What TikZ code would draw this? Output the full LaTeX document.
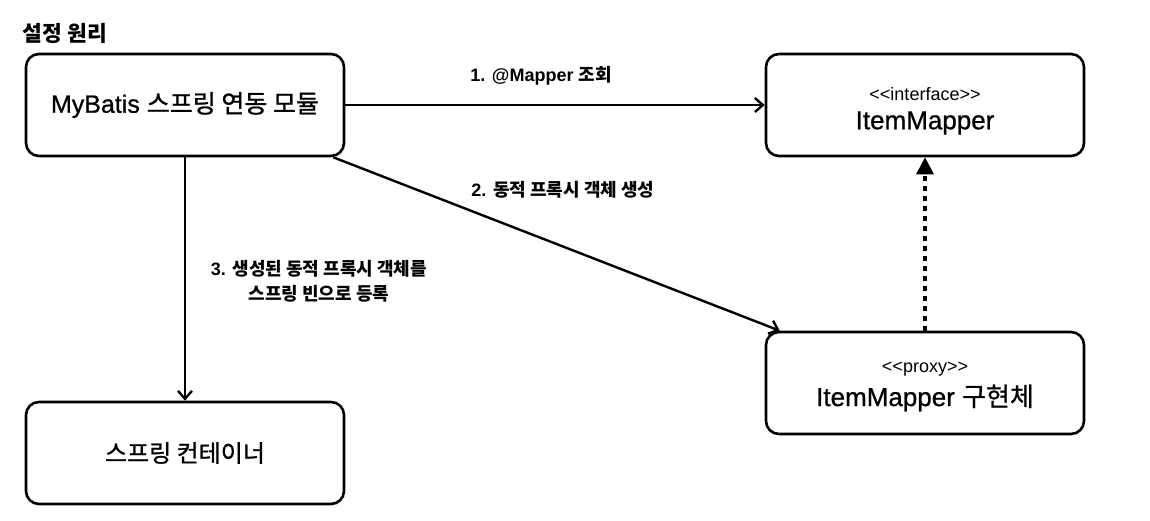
\documentclass[tikz,border=0pt]{standalone}
\usepackage{fontspec}
\setmainfont{Liberation Sans}[Ligatures=TeXOff]
\newfontfamily\kr{Noto Sans CJK KR}
\newfontfamily\krm{Noto Sans CJK KR}[FakeBold=1]
\newfontfamily\boxfont{Liberation Sans}[Ligatures=TeXOff, FakeBold=0.8]
\usetikzlibrary{arrows.meta}

\tikzset{
  box/.style={draw, line width=2.6pt, rounded corners=13pt,
    minimum width=318pt, minimum height=102pt},
  flow/.style={-{Straight Barb[length=8pt,width=14pt]}, line width=2.4pt},
  lbl/.style={font=\bfseries\fontsize{18}{25}\selectfont, align=center},
  stereo/.style={font=\fontsize{18}{20}\selectfont},
  boxtext/.style={font=\boxfont\fontsize{26}{30}\selectfont}
}

\begin{document}
\begin{tikzpicture}[x=1pt,y=-1pt]
\useasboundingbox (0,0) rectangle (1150,520);

\node[font=\bfseries\fontsize{21.5}{24}\selectfont] (title) at (65,33) {\kr 설정 원리};

% boxes
\node[box] (mybatis) at (185,105) {};
\node[boxtext, font=\boxfont\fontsize{25}{30}\selectfont] (mybatist) at (185,105) {MyBatis {\krm 스프링 연동 모듈}};

\node[box] (iface) at (925,105) {};
\node[stereo] (ifacest) at (925,94) {<<interface>>};
\node[boxtext] (ifacet) at (925,123) {ItemMapper};

\node[box] (proxy) at (925,383) {};
\node[stereo] (proxyst) at (925,369) {<<proxy>>};
\node[boxtext] (proxyt) at (925,398) {ItemMapper {\krm 구현체}};

\node[box] (container) at (185,453) {};
\node[boxtext, font=\krm\fontsize{24}{30}\selectfont] (containert) at (185,453) {스프링 컨테이너};

% arrows
\draw[flow] (mybatis) -- (iface);
\node[lbl] (l1) at (541,76) {1. @Mapper {\kr 조회}};

\draw[flow] ([xshift=-12pt]mybatis.south east) -- ([xshift=15pt]proxy.north west);
\node[lbl] (l2) at (563,190) {2. {\kr 동적 프록시 객체 생성}};

\draw[flow] (mybatis) -- (container);
\node[lbl] (l3) at (319,281) {3. {\kr 생성된 동적 프록시 객체를}\\{\kr 스프링 빈으로 등록}};

\draw[-{Triangle[length=17pt,width=17pt]}, line width=3.5pt, dash pattern=on 5pt off 5pt] (proxy) -- (iface);
%
\end{tikzpicture}
\end{document}
